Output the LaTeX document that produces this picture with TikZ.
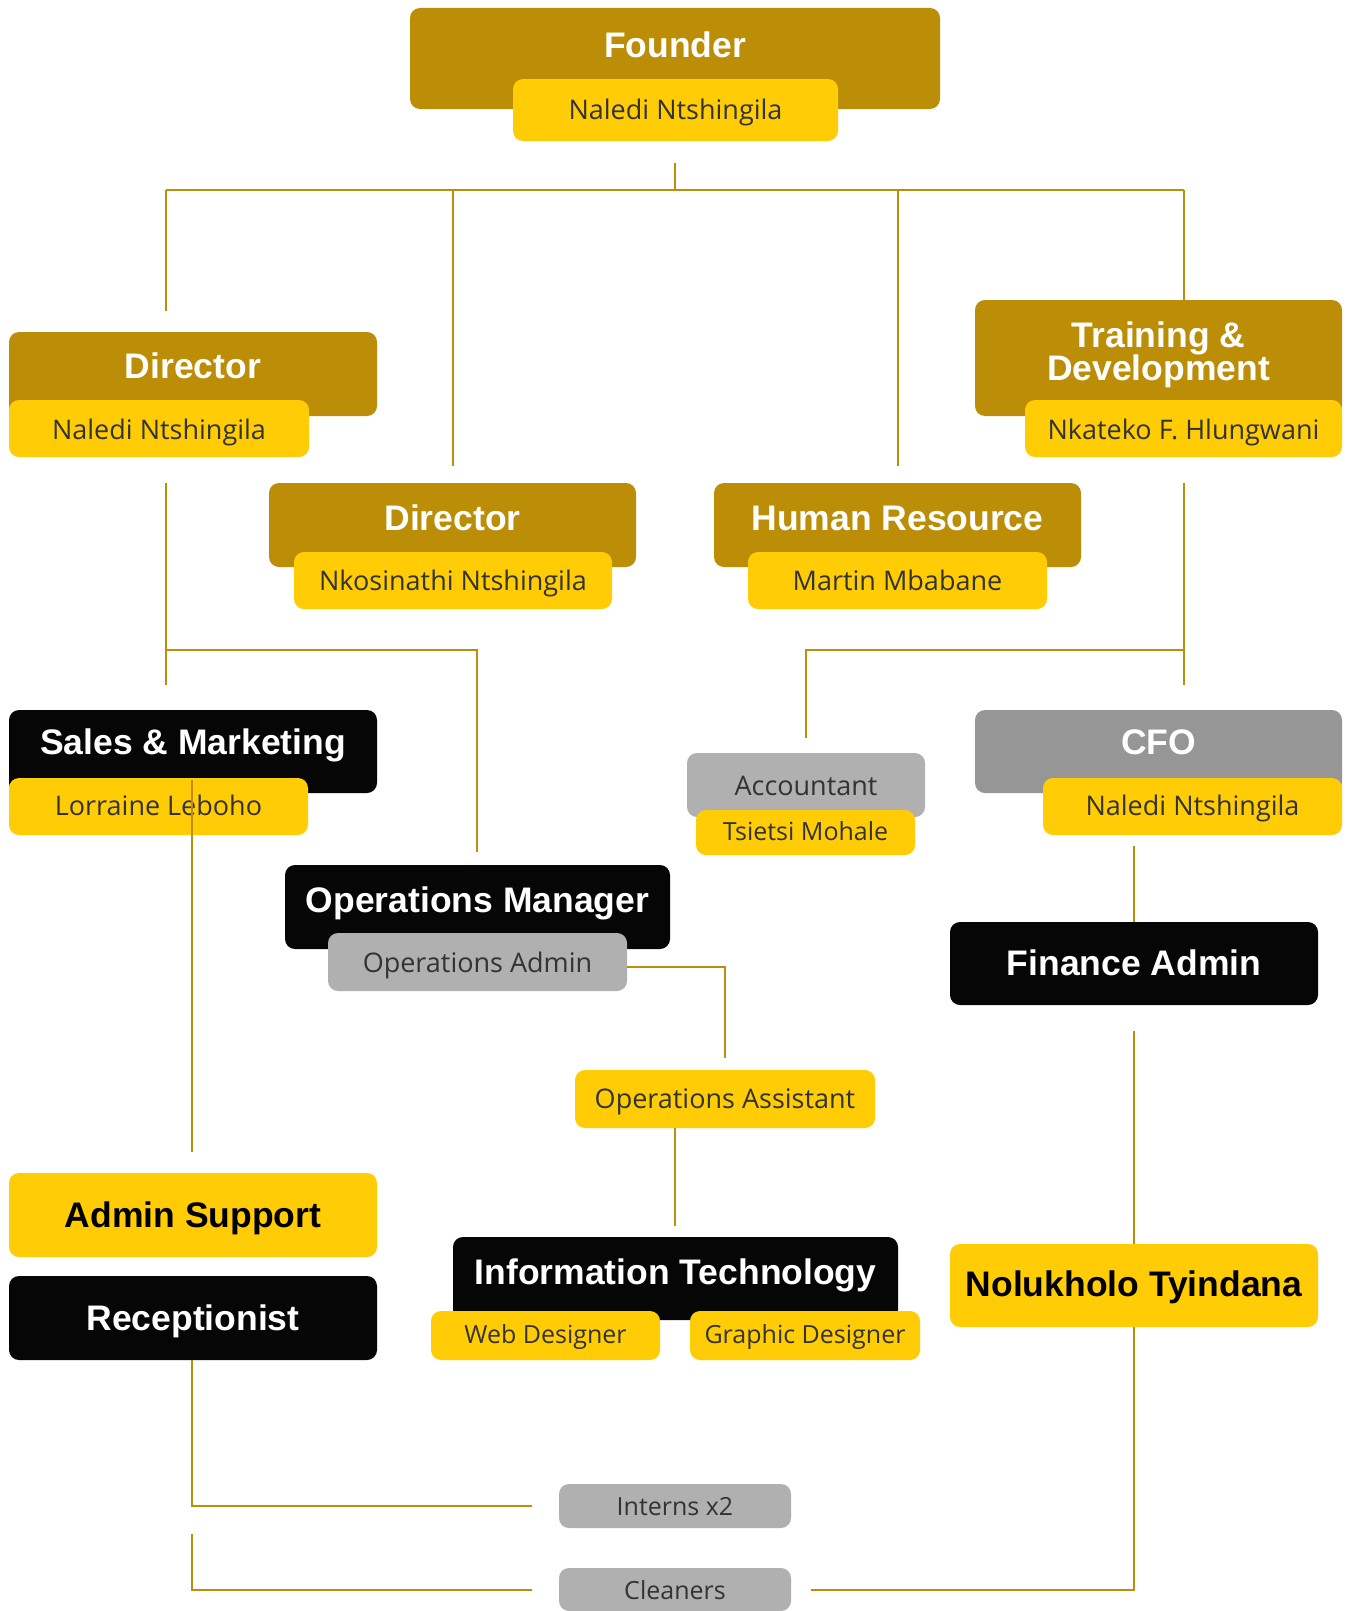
\documentclass[tikz,border=0pt]{standalone}
\usepackage{fontspec}
\setmainfont{Open Sans}
\newfontfamily\hfont{Liberation Sans}
\usetikzlibrary{fit}
\definecolor{gold}{HTML}{BC8D06}
\definecolor{ylw}{HTML}{FFCC05}
\definecolor{lgray}{HTML}{B0B0B0}
\definecolor{mgray}{HTML}{969696}
\definecolor{blk}{HTML}{060606}
\definecolor{subtxt}{HTML}{333333}
\definecolor{linec}{HTML}{BC8E0A}
\tikzset{
  orgbase/.style={rectangle, rounded corners=10pt, inner sep=0pt, draw=none},
  goldbox/.style={orgbase, fill=gold},
  ylwbox/.style={orgbase, fill=ylw},
  graybox/.style={orgbase, fill=lgray},
  cfobox/.style={orgbase, fill=mgray},
  blkbox/.style={orgbase, fill=blk},
  hdr/.style={inner sep=0pt, text height=25pt, text depth=0pt, font=\hfont\bfseries\fontsize{35.5}{38}\selectfont, text=white},
  hdrdark/.style={hdr, text=black},
  subtext/.style={inner sep=0pt, text height=19.3pt, text depth=0pt, font=\fontsize{27}{30}\selectfont, text=subtxt},
  subsmall/.style={subtext, text height=17.9pt, font=\fontsize{25}{28}\selectfont},
  conn/.style={draw=linec, line width=2.5pt},
}
\begin{document}
\begin{tikzpicture}[x=1pt,y=-1pt]
\useasboundingbox[fill=white] (0,0) rectangle (1351,1611);
% boxes
\node[goldbox, fit={(410,8) (940,109)}] (founder) {};
\node[ylwbox, fit={(513,79) (838,141)}] (fsub) {};
\node[goldbox, fit={(9,332) (377,416)}] (dir1) {};
\node[ylwbox, fit={(9,400) (309,457)}] (dir1s) {};
\node[goldbox, fit={(975,300) (1342,416)}] (td) {};
\node[ylwbox, fit={(1025,400) (1342,457)}] (tds) {};
\node[goldbox, fit={(269,483) (636,567)}] (dir2) {};
\node[ylwbox, fit={(294,552) (612,609)}] (dir2s) {};
\node[goldbox, fit={(714,483) (1081,567)}] (hr) {};
\node[ylwbox, fit={(748,552) (1047,609)}] (hrs) {};
\node[blkbox, fit={(9,710) (377,793)}] (sales) {};
\node[ylwbox, fit={(9,778) (308,835)}] (saless) {};
\node[graybox, fit={(687,753) (925,817)}] (acct) {};
\node[ylwbox, fit={(696,810) (915,855)}] (accts) {};
\node[cfobox, fit={(975,710) (1342,793)}] (cfo) {};
\node[ylwbox, fit={(1043,778) (1342,835)}] (cfos) {};
\node[blkbox, fit={(285,865) (670,949)}] (opsm) {};
\node[graybox, fit={(328,933) (627,991)}] (opsms) {};
\node[blkbox, fit={(950,922) (1318,1005)}] (fin) {};
\node[ylwbox, fit={(575,1070) (875,1128)}] (opsa) {};
\node[ylwbox, fit={(9,1173) (377,1257)}] (admin) {};
\node[blkbox, fit={(9,1276) (377,1360)}] (recep) {};
\node[blkbox, fit={(453,1237) (898,1320)}] (it) {};
\node[ylwbox, fit={(431,1311) (660,1360)}] (web) {};
\node[ylwbox, fit={(690,1311) (920,1360)}] (graph) {};
\node[ylwbox, fit={(950,1244) (1318,1327)}] (nolu) {};
\node[graybox, fit={(559,1484) (791,1528)}] (interns) {};
\node[graybox, fit={(559,1568) (791,1611)}] (clean) {};
% texts
\node[hdr] (founderT) at (675,45) {Founder};
\node[subtext] (fsubT) at (675.5,110) {Naledi Ntshingila};
\node[hdr] (dir1T) at (193,366) {Director};
\node[subtext] (dir1sT) at (159,430) {Naledi Ntshingila};
\node[hdr] (tdT1) at (1158.5,335) {Training \&};
\node[hdr] (tdT2) at (1158.5,368) {Development};
\node[subtext] (tdsT) at (1183.5,430) {Nkateko F. Hlungwani};
\node[hdr] (dir2T) at (452.5,518) {Director};
\node[subtext] (dir2sT) at (453,581) {Nkosinathi Ntshingila};
\node[hdr] (hrT) at (897.5,518) {Human Resource};
\node[subtext] (hrsT) at (897.5,581) {Martin Mbabane};
\node[hdr] (salesT) at (193,742) {Sales \& Marketing};
\node[subtext] (salessT) at (158.5,806) {Lorraine Leboho};
\node[subtext] (acctT) at (806,786) {Accountant};
\node[subsmall] (acctsT) at (805.5,832) {Tsietsi Mohale};
\node[hdr] (cfoT) at (1158.5,742) {CFO};
\node[subtext] (cfosT) at (1192.5,806) {Naledi Ntshingila};
\node[hdr] (opsmT) at (477.5,900) {Operations Manager};
\node[subtext] (opsmsT) at (477.5,963) {Operations Admin};
\node[hdr] (finT) at (1134,963) {Finance Admin};
\node[subtext] (opsaT) at (725,1099) {Operations Assistant};
\node[hdrdark] (adminT) at (193,1215) {Admin Support};
\node[hdr] (recepT) at (193,1318) {Receptionist};
\node[hdr] (itT) at (675.5,1272) {Information Technology};
\node[subsmall] (webT) at (545.5,1335) {Web Designer};
\node[subsmall] (graphT) at (805,1335) {Graphic Designer};
\node[hdrdark] (noluT) at (1134,1284) {Nolukholo Tyindana};
\node[subsmall] (internsT) at (675,1507) {Interns x2};
\node[subsmall] (cleanT) at (675,1591) {Cleaners};
% connector points
\coordinate (a0) at (675,163);
\coordinate (a1) at (675,190);
\coordinate (aL) at (166,190);
\coordinate (aR) at (1184,190);
\coordinate (b1) at (166,311);
\coordinate (b2) at (453,190);
\coordinate (b3) at (453,466);
\coordinate (b4) at (898,190);
\coordinate (b5) at (898,466);
\coordinate (b6) at (1184,300);
\coordinate (c0) at (166,483);
\coordinate (c1) at (166,685);
\coordinate (c2) at (166,650);
\coordinate (c3) at (477,650);
\coordinate (c4) at (477,852);
\coordinate (d0) at (1184,483);
\coordinate (d1) at (1184,685);
\coordinate (d2) at (1184,650);
\coordinate (d3) at (806,650);
\coordinate (d4) at (806,738);
\coordinate (e0) at (192,780);
\coordinate (e1) at (192,1152);
\coordinate (f0) at (1134,846);
\coordinate (g0) at (627,967);
\coordinate (g1) at (725,967);
\coordinate (g2) at (725,1058);
\coordinate (h0) at (675,1128);
\coordinate (h1) at (675,1226);
\coordinate (i0) at (1134,1031);
\coordinate (j0) at (192,1360);
\coordinate (j1) at (192,1506);
\coordinate (j2) at (532,1506);
\coordinate (k0) at (192,1534);
\coordinate (k1) at (192,1590);
\coordinate (k2) at (532,1590);
\coordinate (l1) at (1134,1590);
\coordinate (l2) at (811,1590);
% connectors
\draw[conn] (a0) -- (a1);
\draw[conn] (aL) -- (aR);
\draw[conn] (aL) -- (b1);
\draw[conn] (b2) -- (b3);
\draw[conn] (b4) -- (b5);
\draw[conn] (aR) -- (b6);
\draw[conn] (c0) -- (c1);
\draw[conn] (c2) -- (c3) -- (c4);
\draw[conn] (d0) -- (d1);
\draw[conn] (d2) -- (d3) -- (d4);
\draw[conn] (e0) -- (e1);
\draw[conn] (f0) -- (fin.north);
\draw[conn] (g0) -- (g1) -- (g2);
\draw[conn] (h0) -- (h1);
\draw[conn] (i0) -- (nolu.north);
\draw[conn] (j0) -- (j1) -- (j2);
\draw[conn] (k0) -- (k1) -- (k2);
\draw[conn] (nolu.south) -- (l1) -- (l2);
\end{tikzpicture}
\end{document}
